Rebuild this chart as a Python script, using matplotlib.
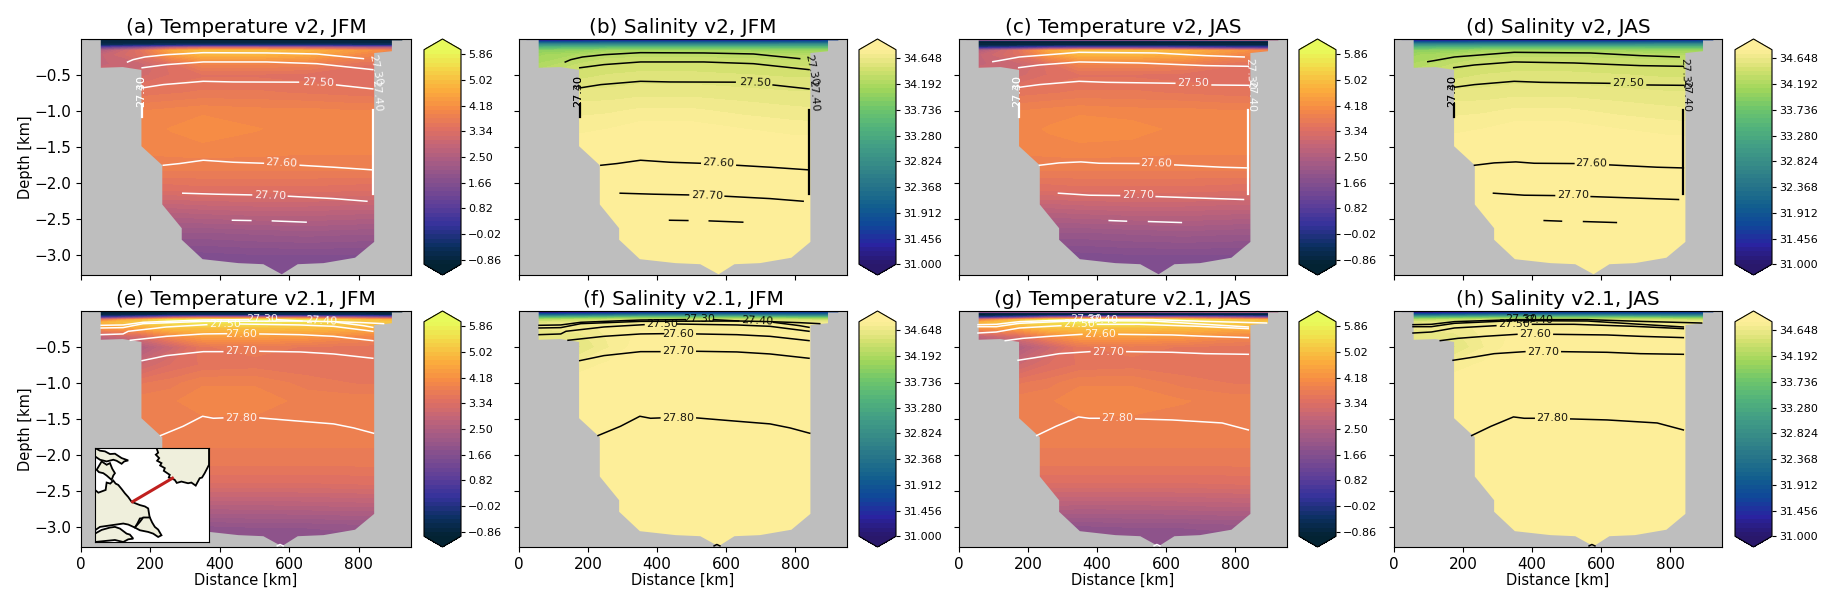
import numpy as np
import matplotlib
matplotlib.use("Agg")
import matplotlib.pyplot as plt
from matplotlib.colors import LinearSegmentedColormap

nan = np.nan

# section grid
dist = [0, 60, 175, 260, 350, 500, 650, 800, 950]
depth = [0, 0.015, 0.03, 0.06, 0.09, 0.12, 0.16, 0.22, 0.35, 0.5, 0.75, 1.0, 1.25, 1.5, 1.8, 2.1, 2.4, 2.7, 3.0, 3.3]

temp_v2 = [
    [-0.9, -0.9, -0.9, -0.9, -0.9, -0.9, -0.9, -0.9, -0.9],
    [-0.9, -0.9, -0.9, -0.9, -0.9, -0.9, -0.9, -0.9, -0.9],
    [-0.85, -0.85, -0.85, -0.85, -0.85, -0.85, -0.85, -0.85, -0.85],
    [-0.75, -0.75, -0.75, -0.7, -0.7, -0.7, -0.7, -0.7, -0.7],
    [-0.4, -0.4, -0.3, -0.2, -0.1, -0.1, -0.1, -0.2, -0.3],
    [0.9, 1.0, 1.7, 2.6, 3.0, 3.0, 2.8, 2.6, 2.4],
    [2.0, 2.5, 3.5, 4.6, 5.0, 5.0, 4.8, 4.3, 3.8],
    [2.7, 2.9, 3.4, 4.3, 4.8, 4.8, 4.6, 4.0, 3.8],
    [2.8, 2.9, 3.0, 3.4, 3.9, 3.9, 3.85, 3.5, 3.4],
    [2.9, 3.0, 3.15, 3.35, 3.45, 3.45, 3.4, 3.35, 3.3],
    [3.3, 3.45, 3.55, 3.6, 3.65, 3.65, 3.6, 3.55, 3.5],
    [3.7, 3.8, 3.9, 3.95, 4.0, 3.95, 3.95, 3.9, 3.9],
    [3.97, 3.97, 3.97, 4.05, 4.16, 4.05, 3.98, 3.97, 3.97],
    [3.95, 3.95, 3.95, 3.98, 4.0, 3.98, 3.95, 3.95, 3.95],
    [3.8, 3.8, 3.8, 3.8, 3.8, 3.8, 3.8, 3.8, 3.8],
    [3.35, 3.35, 3.35, 3.35, 3.4, 3.4, 3.4, 3.35, 3.35],
    [2.65, 2.65, 2.65, 2.65, 2.7, 2.75, 2.75, 2.7, 2.7],
    [2.05, 2.05, 2.05, 2.05, 2.05, 2.1, 2.15, 2.1, 2.1],
    [1.6, 1.6, 1.6, 1.6, 1.6, 1.65, 1.65, 1.65, 1.65],
    [1.5, 1.5, 1.5, 1.5, 1.5, 1.5, 1.5, 1.5, 1.5],
]

temp_v21 = [
    [-0.9, -0.9, -0.9, -0.9, -0.9, -0.9, -0.9, -0.9, -0.9],
    [-0.9, -0.9, -0.9, -0.9, -0.9, -0.9, -0.9, -0.9, -0.9],
    [-0.85, -0.85, -0.85, -0.85, -0.85, -0.85, -0.85, -0.85, -0.85],
    [-0.7, -0.7, -0.6, -0.5, -0.4, -0.4, -0.4, -0.5, -0.6],
    [0.3, 0.6, 1.5, 2.6, 3.2, 3.2, 3.0, 2.4, 1.5],
    [3.0, 3.5, 4.8, 5.6, 5.8, 5.8, 5.6, 5.0, 4.6],
    [4.8, 4.8, 5.2, 5.4, 5.6, 5.6, 5.4, 5.2, 5.0],
    [4.4, 4.4, 4.7, 5.1, 5.1, 5.1, 5.0, 4.8, 4.8],
    [2.9, 2.8, 3.3, 4.0, 4.4, 4.4, 4.3, 4.0, 3.9],
    [2.7, 2.4, 2.5, 3.0, 3.6, 3.7, 3.6, 3.55, 3.5],
    [3.2, 3.0, 3.05, 3.35, 3.5, 3.55, 3.5, 3.5, 3.5],
    [3.65, 3.6, 3.6, 3.7, 3.88, 3.88, 3.7, 3.6, 3.6],
    [3.84, 3.84, 3.84, 3.88, 3.98, 3.98, 3.85, 3.84, 3.84],
    [3.85, 3.85, 3.85, 3.85, 3.88, 3.88, 3.85, 3.85, 3.85],
    [3.8, 3.8, 3.8, 3.8, 3.8, 3.8, 3.8, 3.8, 3.8],
    [3.68, 3.68, 3.68, 3.68, 3.68, 3.68, 3.68, 3.68, 3.68],
    [3.35, 3.35, 3.35, 3.32, 3.32, 3.32, 3.32, 3.35, 3.35],
    [2.68, 2.68, 2.68, 2.65, 2.62, 2.62, 2.65, 2.68, 2.68],
    [1.95, 1.95, 1.95, 1.9, 1.9, 1.95, 1.95, 2.0, 2.0],
    [1.75, 1.75, 1.75, 1.75, 1.75, 1.75, 1.75, 1.75, 1.75],
]

# JAS only differs near the surface and in the warm core
temp_v2_jas_top = [
    [4.2, 4.2, 4.2, 4.2, 4.2, 4.2, 4.4, 4.8, 5.0],
    [1.5, 1.5, 1.5, 1.5, 1.5, 1.5, 1.8, 2.0, 2.2],
    [-0.95, -0.95, -0.95, -0.95, -0.95, -0.95, -0.95, -0.95, -0.95],
    [-0.9, -0.9, -0.9, -0.9, -0.9, -0.9, -0.9, -0.9, -0.9],
    [-0.7, -0.7, -0.7, -0.7, -0.7, -0.7, -0.7, -0.7, -0.7],
    [-0.1, 0.0, 0.4, 0.9, 1.2, 1.2, 1.0, 0.6, 0.4],
]
temp_v21_jas_top = [
    [4.4, 4.4, 4.4, 4.4, 4.4, 4.4, 4.6, 5.0, 5.4],
    [1.5, 1.5, 1.5, 1.5, 1.5, 1.5, 1.8, 2.0, 2.2],
    [-0.95, -0.95, -0.95, -0.95, -0.95, -0.95, -0.95, -0.95, -0.95],
    [-0.85, -0.85, -0.8, -0.8, -0.8, -0.8, -0.8, -0.8, -0.8],
    [0.0, 0.2, 1.0, 2.2, 2.8, 2.8, 2.6, 2.0, 1.2],
    [3.0, 3.5, 4.8, 5.6, 5.8, 5.8, 5.6, 5.0, 4.6],
]
temp_v2_jas_core = [3.97, 3.97, 3.97, 4.06, 4.16, 4.12, 3.98, 3.97, 3.97]
temp_v21_jas_core = [3.84, 3.84, 3.84, 3.88, 3.98, 3.98, 3.91, 3.84, 3.84]

salt_v2 = [
    [31.1, 31.1, 31.1, 31.1, 31.1, 31.1, 31.1, 31.1, 31.1],
    [31.15, 31.15, 31.15, 31.2, 31.2, 31.2, 31.2, 31.3, 31.4],
    [31.5, 31.5, 31.5, 31.55, 31.55, 31.55, 31.55, 31.6, 31.7],
    [32.3, 32.3, 32.3, 32.35, 32.35, 32.35, 32.35, 32.4, 32.4],
    [33.0, 33.0, 33.0, 33.05, 33.05, 33.05, 33.05, 33.05, 33.05],
    [33.5, 33.5, 33.55, 33.6, 33.6, 33.6, 33.6, 33.6, 33.6],
    [33.95, 33.95, 34.0, 34.1, 34.1, 34.1, 34.1, 34.05, 34.05],
    [34.1, 34.1, 34.2, 34.3, 34.3, 34.3, 34.3, 34.25, 34.25],
    [34.2, 34.2, 34.35, 34.42, 34.44, 34.44, 34.42, 34.4, 34.4],
    [34.3, 34.35, 34.46, 34.5, 34.52, 34.52, 34.5, 34.48, 34.48],
    [34.55, 34.58, 34.6, 34.6, 34.62, 34.62, 34.6, 34.58, 34.58],
    [34.68, 34.68, 34.7, 34.71, 34.74, 34.74, 34.7, 34.67, 34.65],
    [34.78, 34.78, 34.78, 34.8, 34.84, 34.84, 34.8, 34.77, 34.76],
    [34.85, 34.85, 34.85, 34.85, 34.85, 34.85, 34.85, 34.85, 34.85],
    [34.85, 34.85, 34.85, 34.85, 34.85, 34.85, 34.85, 34.85, 34.85],
    [34.85, 34.85, 34.85, 34.85, 34.85, 34.85, 34.85, 34.85, 34.85],
    [34.85, 34.85, 34.85, 34.85, 34.85, 34.85, 34.85, 34.85, 34.85],
    [34.85, 34.85, 34.85, 34.85, 34.85, 34.85, 34.85, 34.85, 34.85],
    [34.85, 34.85, 34.85, 34.85, 34.85, 34.85, 34.85, 34.85, 34.85],
    [34.85, 34.85, 34.85, 34.85, 34.85, 34.85, 34.85, 34.85, 34.85],
]

salt_v21 = [
    [31.05, 31.05, 31.05, 31.1, 31.2, 31.3, 31.3, 31.3, 31.3],
    [31.1, 31.1, 31.1, 31.2, 31.3, 31.4, 31.4, 31.4, 31.4],
    [31.3, 31.3, 31.4, 31.5, 31.6, 31.7, 31.7, 31.7, 31.7],
    [32.3, 32.3, 32.4, 32.5, 32.6, 32.6, 32.6, 32.5, 32.5],
    [33.5, 33.5, 33.6, 33.7, 33.8, 33.8, 33.8, 33.7, 33.6],
    [34.25, 34.25, 34.35, 34.4, 34.45, 34.45, 34.45, 34.4, 34.35],
    [34.55, 34.55, 34.6, 34.65, 34.7, 34.7, 34.7, 34.65, 34.65],
    [34.68, 34.66, 34.7, 34.74, 34.78, 34.78, 34.78, 34.75, 34.75],
    [34.72, 34.6, 34.62, 34.74, 34.82, 34.82, 34.82, 34.82, 34.82],
    [34.78, 34.6, 34.56, 34.72, 34.85, 34.85, 34.85, 34.85, 34.85],
    [34.82, 34.78, 34.76, 34.82, 34.85, 34.85, 34.85, 34.85, 34.85],
    [34.85, 34.85, 34.85, 34.85, 34.85, 34.85, 34.85, 34.85, 34.85],
    [34.85, 34.85, 34.85, 34.85, 34.85, 34.85, 34.85, 34.85, 34.85],
    [34.85, 34.85, 34.85, 34.85, 34.85, 34.85, 34.85, 34.85, 34.85],
    [34.85, 34.85, 34.85, 34.85, 34.85, 34.85, 34.85, 34.85, 34.85],
    [34.85, 34.85, 34.85, 34.85, 34.85, 34.85, 34.85, 34.85, 34.85],
    [34.85, 34.85, 34.85, 34.85, 34.85, 34.85, 34.85, 34.85, 34.85],
    [34.85, 34.85, 34.85, 34.85, 34.85, 34.85, 34.85, 34.85, 34.85],
    [34.85, 34.85, 34.85, 34.85, 34.85, 34.85, 34.85, 34.85, 34.85],
    [34.85, 34.85, 34.85, 34.85, 34.85, 34.85, 34.85, 34.85, 34.85],
]

# sea floor outline, left to right
floor_x = [0, 22, 22, 57, 57, 120, 174, 174, 234, 234, 290, 290, 350, 453, 525, 578, 624, 698, 789, 844, 844, 895, 895, 925, 925, 950]
floor_z = [0, 0, -0.015, -0.015, -0.4, -0.39, -0.43, -1.49, -1.755, -2.3, -2.63, -2.79, -3.06, -3.115, -3.13, -3.27, -3.13, -3.115, -3.04, -2.82, -0.195, -0.17, -0.02, -0.02, 0, 0]

# density contours (nan = gap for the label)
iso_v2_jfm = [
    ([134, 150, 184, 246, 352, 535, 679, 813], [-0.32, -0.287, -0.25, -0.218, -0.19, -0.194, -0.208, -0.273]),
    ([176, 246, 352, 535, 679, 840], [-0.40, -0.356, -0.319, -0.319, -0.343, -0.426]),
    ([176, 237, 352, 438, 626, nan, 736, 840], [-0.68, -0.634, -0.588, -0.597, -0.60, nan, -0.639, -0.694]),
    ([237, 284, 352, 438, 525, nan, 631, 727, 840], [-1.755, -1.731, -1.685, -1.713, -1.727, nan, -1.755, -1.782, -1.819]),
    ([293, 390, 491, nan, 597, 727, 823], [-2.143, -2.157, -2.167, nan, -2.185, -2.218, -2.255]),
    ([436, 489, nan, 551, 648], [-2.519, -2.523, nan, -2.528, -2.546]),
]
wall_v2_jfm = [
    ([176, 176], [-0.91, -1.083]),
    ([840, 840], [-0.98, -2.16]),
]
labels_v2_jfm = [
    ("27.30", 847, -0.43, -78),
    ("27.40", 852, -0.787, -85),
    ("27.30", 172, -0.718, 90),
    ("27.40", 172, -0.718, 90),
    ("27.50", 684, -0.606, -2),
    ("27.60", 576, -1.727, -3),
    ("27.70", 544, -2.171, -2),
]

iso_v2_jas = [
    ([98, 117, 175, 348, 569, 713, 826], [-0.315, -0.30, -0.25, -0.185, -0.194, -0.231, -0.25]),
    ([173, 233, 348, 521, 713, 838], [-0.398, -0.361, -0.319, -0.333, -0.37, -0.38]),
    ([175, 233, 348, 425, 625, nan, 733, 838], [-0.671, -0.634, -0.588, -0.602, -0.616, nan, -0.639, -0.644]),
    ([233, 290, 353, 406, 521, nan, 625, 762, 838], [-1.755, -1.722, -1.708, -1.727, -1.731, nan, -1.75, -1.782, -1.792]),
    ([288, 377, 465, nan, 571, 713, 824], [-2.143, -2.171, -2.176, nan, -2.19, -2.213, -2.231]),
    ([435, 485, nan, 549, 644], [-2.523, -2.532, nan, -2.537, -2.551]),
]
wall_v2_jas = [
    ([175, 175], [-0.91, -1.083]),
    ([838, 838], [-0.98, -2.16]),
]
labels_v2_jas = [
    ("27.30", 843, -0.48, -88),
    ("27.40", 846, -0.796, -90),
    ("27.30", 167, -0.718, 90),
    ("27.40", 167, -0.718, 90),
    ("27.50", 678, -0.616, 0),
    ("27.60", 571, -1.727, -1),
    ("27.70", 519, -2.171, 0),
]

iso_v21_jfm = [
    ([58, 121, 179, 352, 482, nan, 563, 636, 727, 813, 871], [-0.199, -0.194, -0.157, -0.125, -0.12, nan, -0.12, -0.139, -0.148, -0.162, -0.176]),
    ([58, 121, 179, 352, 636, nan, 737, 813, 840], [-0.236, -0.231, -0.176, -0.144, -0.139, nan, -0.157, -0.204, -0.227]),
    ([58, 121, 136, 246, 362, nan, 458, 631, 727, 840], [-0.329, -0.319, -0.282, -0.222, -0.19, nan, -0.181, -0.194, -0.213, -0.282]),
    ([142, 246, 352, 419, nan, 515, 631, 727, 840], [-0.407, -0.352, -0.319, -0.315, nan, -0.319, -0.329, -0.352, -0.412]),
    ([176, 246, 352, 408, nan, 515, 631, 727, 840], [-0.69, -0.62, -0.565, -0.565, nan, -0.56, -0.569, -0.597, -0.657]),
    ([229, 294, 350, 381, 408, nan, 515, 631, 727, 785, 842], [-1.731, -1.602, -1.463, -1.491, -1.486, nan, -1.486, -1.532, -1.569, -1.625, -1.699]),
    ([565, 573, 582], [-3.265, -3.245, -3.265]),
]
labels_v21_jfm = [
    ("27.30", 521, -0.106, 0),
    ("27.40", 691, -0.13, -3),
    ("27.50", 414, -0.18, 0),
    ("27.60", 462, -0.315, 0),
    ("27.70", 462, -0.551, 0),
    ("27.80", 462, -1.486, 0),
]

iso_v21_jas = [
    ([55, 108, 175, 348, 560, 713, 891], [-0.19, -0.185, -0.148, -0.12, -0.12, -0.144, -0.167]),
    ([55, 108, 175, 348, 560, 713, 838], [-0.218, -0.218, -0.171, -0.134, -0.139, -0.185, -0.222]),
    ([55, 108, 175, 295, nan, 401, 521, 694, 838], [-0.306, -0.292, -0.236, -0.204, nan, -0.185, -0.185, -0.213, -0.245]),
    ([134, 185, 262, 356, nan, 463, 617, 713, 838], [-0.412, -0.38, -0.352, -0.324, nan, -0.324, -0.333, -0.352, -0.37]),
    ([171, 233, 290, 379, nan, 486, 617, 713, 838], [-0.685, -0.639, -0.593, -0.565, nan, -0.565, -0.574, -0.593, -0.602]),
    ([225, 281, 346, 377, 406, nan, 512, 617, 762, 838], [-1.731, -1.602, -1.472, -1.491, -1.491, nan, -1.5, -1.514, -1.556, -1.653]),
    ([565, 573, 582], [-3.265, -3.245, -3.265]),
]
labels_v21_jas = [
    ("27.30", 367, -0.106, 0),
    ("27.40", 415, -0.12, 0),
    ("27.50", 348, -0.176, 0),
    ("27.60", 410, -0.315, 0),
    ("27.70", 433, -0.565, 0),
    ("27.80", 459, -1.486, 0),
]

titles = [
    "(a) Temperature v2, JFM", "(b) Salinity v2, JFM", "(c) Temperature v2, JAS", "(d) Salinity v2, JAS",
    "(e) Temperature v2.1, JFM", "(f) Salinity v2.1, JFM", "(g) Temperature v2.1, JAS", "(h) Salinity v2.1, JAS",
]

# locator map outlines, in map pixels
greenland_x = [185, 190, 183, 193, 187, 200, 196, 210, 207, 225, 222, 240, 246, 260, 280, 290, 303, 315, 322, 330, 343, 343]
greenland_y = [0, 14, 20, 30, 38, 45, 52, 60, 68, 80, 88, 95, 104, 100, 105, 103, 112, 90, 88, 75, 50, 0]
baffin_x = [0, 15, 30, 45, 60, 80, 100, 88, 80, 65, 55, 35, 15, 0]
baffin_y = [0, 8, 10, 18, 17, 30, 37, 40, 47, 38, 35, 40, 35, 25]
island_x = [20, 35, 45, 52, 60, 55, 50, 35, 25, 12, 5]
island_y = [40, 50, 45, 62, 75, 82, 95, 82, 75, 72, 65]
labrador_x = [0, 10, 32, 35, 46, 55, 62, 70, 80, 90, 100, 110, 122, 135, 150, 160, 165, 150, 135, 128, 120, 100, 85, 50, 15, 0]
labrador_y = [125, 133, 125, 103, 106, 97, 106, 110, 122, 135, 146, 160, 165, 170, 174, 180, 210, 208, 210, 224, 237, 228, 225, 230, 235, 245]
newfoundland_x = [120, 135, 145, 165, 172, 180, 190, 200, 190, 175, 160, 135]
newfoundland_y = [237, 220, 207, 207, 222, 235, 243, 260, 265, 255, 250, 245]
maritimes_x = [0, 20, 45, 60, 75, 95, 105, 115, 100, 85, 60, 0]
maritimes_y = [255, 244, 237, 235, 240, 255, 258, 270, 272, 280, 274, 280]
section_x = [113, 233]
section_y = [160, 90]

thermal = LinearSegmentedColormap.from_list("thermal", [
    (3/255, 35/255, 51/255), (13/255, 48/255, 100/255), (53/255, 50/255, 155/255),
    (93/255, 62/255, 153/255), (126/255, 77/255, 143/255), (158/255, 89/255, 135/255),
    (193/255, 100/255, 121/255), (225/255, 113/255, 97/255), (246/255, 139/255, 69/255),
    (251/255, 174/255, 60/255), (244/255, 214/255, 72/255), (232/255, 250/255, 91/255)])
haline = LinearSegmentedColormap.from_list("haline", [
    (41/255, 24/255, 107/255), (42/255, 35/255, 160/255), (15/255, 71/255, 153/255),
    (18/255, 95/255, 142/255), (38/255, 116/255, 137/255), (53/255, 136/255, 136/255),
    (65/255, 157/255, 133/255), (81/255, 178/255, 124/255), (111/255, 198/255, 107/255),
    (160/255, 214/255, 91/255), (212/255, 225/255, 112/255), (253/255, 238/255, 153/255)])

temp_levels = np.linspace(-1, 6, 51)
salt_levels = np.linspace(31, 34.8, 51)

W, H = 1832, 606
LAND = "#bebebe"
LAND_MAP = "#efefdc"


def px_axes(fig, x0, x1, y0, y1):
    return fig.add_axes([x0 / W, 1 - y1 / H, (x1 - x0) / W, (y1 - y0) / H])


def with_top(table, top, core):
    out = np.array(table, dtype=float)
    out[:len(top)] = top
    out[12] = core
    return out


def plot_section(ax, cax, field, levels, cmap, ticks, lines, walls, labels, colour):
    cf = ax.contourf(dist, -np.array(depth), field, levels=levels, cmap=cmap, extend="both")
    ax.fill(list(floor_x) + [950, 0], list(floor_z) + [-3.3, -3.3], color=LAND, lw=0)

    for xs, zs in lines:
        ax.plot(xs, zs, color=colour, lw=1.1)
    for xs, zs in walls:
        ax.plot(xs, zs, color=colour, lw=1.6)
    for txt, x, z, rot in labels:
        ax.text(x, z, txt, color=colour, fontsize=8, rotation=rot,
                ha="center", va="center", rotation_mode="anchor", alpha=0.9)

    ax.set_xlim(0, 950)
    ax.set_ylim(-3.28, 0)
    ax.set_xticks([0, 200, 400, 600, 800])
    ax.set_yticks([-0.5, -1.0, -1.5, -2.0, -2.5, -3.0])
    ax.tick_params(labelsize=11)

    cb = plt.colorbar(cf, cax=cax, ticks=ticks)
    cb.ax.tick_params(labelsize=8, length=3, pad=2)
    return cf


fig = plt.figure(figsize=(W / 100, H / 100), dpi=100)

ax_left = [81, 519, 959, 1394]
ax_right = [411, 847, 1287, 1722]
cb_left = [424, 859, 1299, 1735]
cb_right = [461, 896, 1336, 1772]
rows = [(39, 275), (311, 547)]

panels = [
    (temp_v2, iso_v2_jfm, wall_v2_jfm, labels_v2_jfm),
    (salt_v2, iso_v2_jfm, wall_v2_jfm, labels_v2_jfm),
    (with_top(temp_v2, temp_v2_jas_top, temp_v2_jas_core), iso_v2_jas, wall_v2_jas, labels_v2_jas),
    (salt_v2, iso_v2_jas, wall_v2_jas, labels_v2_jas),
    (temp_v21, iso_v21_jfm, [], labels_v21_jfm),
    (salt_v21, iso_v21_jfm, [], labels_v21_jfm),
    (with_top(temp_v21, temp_v21_jas_top, temp_v21_jas_core), iso_v21_jas, [], labels_v21_jas),
    (salt_v21, iso_v21_jas, [], labels_v21_jas),
]

for i, (field, lines, walls, labels) in enumerate(panels):
    r, c = i // 4, i % 4
    y0, y1 = rows[r]
    ax = px_axes(fig, ax_left[c], ax_right[c], y0, y1)
    cax = px_axes(fig, cb_left[c], cb_right[c], y0, y1)

    if c % 2 == 0:
        plot_section(ax, cax, field, temp_levels, thermal, temp_levels[1::6], lines, walls, labels, "white")
    else:
        plot_section(ax, cax, field, salt_levels, haline, salt_levels[::6], lines, walls, labels, "black")

    ax.set_title(titles[i], fontsize=14.4, pad=4)
    if c == 0:
        ax.set_ylabel("Depth [km]", fontsize=10.5, labelpad=1)
    else:
        ax.set_yticklabels([])
    if r == 1:
        ax.set_xlabel("Distance [km]", fontsize=10.5, labelpad=1)
    else:
        ax.set_xticklabels([])

# locator map on panel (e)
inset = px_axes(fig, 95, 209, 448, 542)
inset.set_facecolor("white")
for xs, ys in [(greenland_x, greenland_y), (baffin_x, baffin_y), (island_x, island_y),
               (labrador_x, labrador_y), (newfoundland_x, newfoundland_y), (maritimes_x, maritimes_y)]:
    inset.fill(xs, ys, facecolor=LAND_MAP, edgecolor="black", lw=1.3)
inset.plot(section_x, section_y, color="#c0201e", lw=2.2)
inset.set_xlim(0, 343)
inset.set_ylim(280, 0)
inset.set_xticks([])
inset.set_yticks([])

fig.savefig("out.png", dpi=100)
